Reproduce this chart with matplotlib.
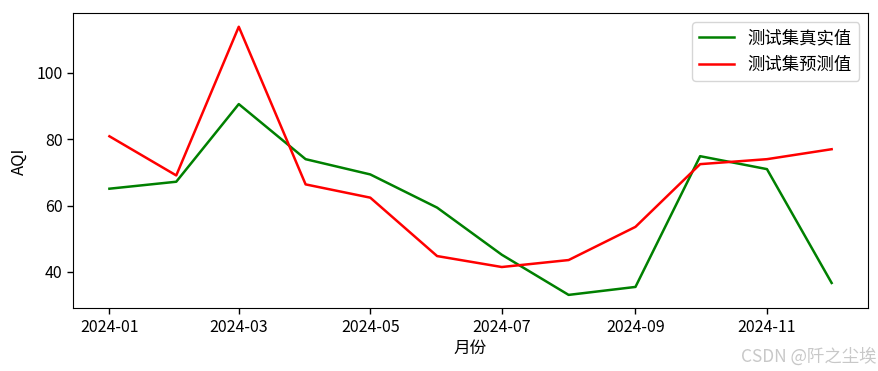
import numpy as np
import pandas as pd
import matplotlib
matplotlib.use('Agg')
import matplotlib.pyplot as plt
import matplotlib.dates as mdates
from matplotlib.ticker import MultipleLocator

plt.rcParams['font.family'] = ['Noto Sans CJK SC', 'DejaVu Sans']
plt.rcParams['axes.unicode_minus'] = False

months = pd.date_range('2024-01-01', periods=12, freq='MS')
true_vals = [65.1, 67.2, 90.6, 74.0, 69.4, 59.4, 45.2, 33.1, 35.5, 74.9, 71.0, 36.7]
pred_vals = [80.9, 69.1, 113.9, 66.4, 62.4, 44.8, 41.5, 43.6, 53.6, 72.5, 74.0, 77.0]

fig = plt.figure(figsize=(8.79, 3.71), dpi=100)
ax = fig.add_axes([0.0834, 0.169, 0.9038, 0.795])
ax.plot(months, true_vals, color='green', label='测试集真实值', lw=1.8)
ax.plot(months, pred_vals, color='red', label='测试集预测值', lw=1.8)
ax.set_xlabel('月份', fontsize=12, labelpad=3)
ax.set_ylabel('AQI', fontsize=12, labelpad=6)
ax.legend(loc='upper right', fontsize=12.5)
ax.tick_params(labelsize=11.5, length=4.2, width=1)

ax.xaxis.set_major_locator(mdates.MonthLocator(bymonth=[1, 3, 5, 7, 9, 11]))
ax.xaxis.set_major_formatter(mdates.DateFormatter('%Y-%m'))
ax.yaxis.set_major_locator(MultipleLocator(20))

fig.text(0.997, 0.015, 'CSDN @阡之尘埃', ha='right', va='bottom',
         color='#c8c8c8', fontsize=12.5)

fig.savefig('out.png', dpi=100)
